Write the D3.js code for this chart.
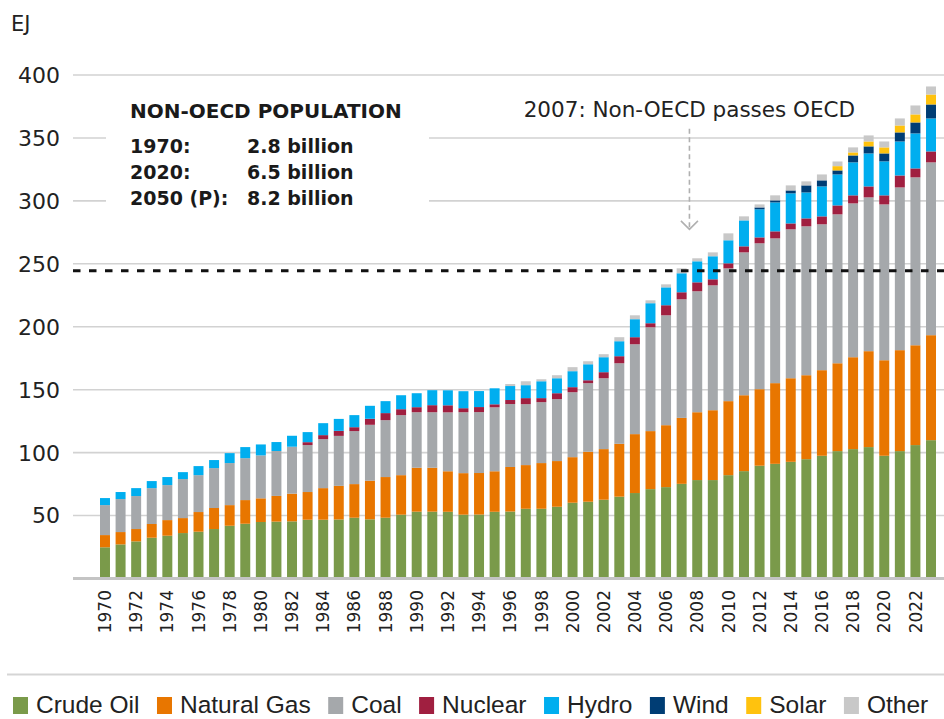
<!DOCTYPE html>
<html><head><meta charset="utf-8">
<script src="https://cdn.jsdelivr.net/npm/d3@7"></script>
<style>body{margin:0;background:#fff}svg{display:block}</style>
</head><body><svg id="c" width="944" height="719"></svg>
<script>
const years = [1970,1971,1972,1973,1974,1975,1976,1977,1978,1979,1980,1981,1982,1983,1984,1985,1986,1987,1988,1989,1990,1991,1992,1993,1994,1995,1996,1997,1998,1999,2000,2001,2002,2003,2004,2005,2006,2007,2008,2009,2010,2011,2012,2013,2014,2015,2016,2017,2018,2019,2020,2021,2022,2023];
const crudeOil = [24.4,26.7,29.1,32.0,33.6,35.7,36.8,38.9,41.5,43.1, 44.5,44.8,45.0,46.3,46.3,46.5,47.9,46.6,47.9,50.3, 52.7,52.7,52.6,50.3,50.4,52.6,52.8,55.0,55.0,56.6, 59.8,60.6,62.2,64.6,67.5,70.6,72.2,74.8,77.8,77.8, 81.7,84.9,89.2,90.7,92.3,94.4,97.1,100.8,102.4,104.0, 97.1,100.8,105.6,109.5];
const naturalGas = [9.7,9.8,9.8,10.9,12.4,11.9,15.6,16.7,16.4,18.8, 18.8,20.4,22.0,22.0,25.1,26.7,26.7,30.7,32.3,31.4, 34.9,34.9,32.2,33.0,33.0,32.2,35.4,34.7,36.3,36.3, 36.2,39.7,40.2,42.0,46.8,46.1,49.2,52.4,53.9,55.5, 58.8,60.3,60.8,64.1,66.4,66.7,68.0,69.8,73.0,76.2, 75.9,80.2,79.3,83.4];
const coal = [23.8,26.2,26.2,28.5,27.8,31.0,29.3,31.7,33.4,33.3, 34.1,35.7,37.3,37.3,38.9,39.7,42.1,44.4,45.2,47.7, 44.1,44.1,46.8,48.4,48.4,50.8,50.0,48.4,48.4,49.2, 51.6,54.5,56.3,64.0,71.4,82.5,87.3,94.2,96.1,99.2, 105.5,113.5,115.9,115.0,118.3,118.3,115.9,118.3,122.2,122.2, 123.8,129.3,133.4,137.3];
const nuclear = [0,0,0,0,0,0,0,0,0,0, 0,0,0,2.3,3.2,4.0,3.1,4.8,5.6,4.7, 4.0,5.6,5.6,3.2,4.0,2.4,3.2,4.8,3.2,4.7, 4.0,2.3,4.8,5.6,5.6,3.2,8.0,5.6,7.1,4.8, 4.0,4.8,4.7,5.6,4.7,6.3,6.3,7.1,6.4,8.7, 7.2,9.5,7.1,8.7];
const hydro = [5.6,5.6,6.3,5.6,6.4,5.5,7.2,6.4,7.9,8.8, 8.7,7.1,8.7,8.0,9.5,9.5,9.6,10.3,9.5,11.1, 11.1,11.9,11.9,13.5,12.7,12.7,11.1,10.3,13.4,11.9, 12.7,12.7,11.9,11.9,14.3,15.9,14.2,15.1,16.7,18.3, 18.3,20.6,22.3,23.0,23.9,20.6,23.8,24.6,26.2,26.2, 27.0,27.0,27.8,26.2];
const wind = [0,0,0,0,0,0,0,0,0,0, 0,0,0,0,0,0,0,0,0,0, 0,0,0,0,0,0,0,0,0,0, 0,0,0,0,0,0,0,0,0,0, 0,0,1.5,1.6,2.3,5.6,4.8,3.2,5.5,5.6, 6.3,7.2,8.7,11.1];
const solar = [0,0,0,0,0,0,0,0,0,0, 0,0,0,0,0,0,0,0,0,0, 0,0,0,0,0,0,0,0,0,0, 0,0,0,0,0,0,0,0,0,0, 0,0,0,0,0,0,0,3.4,2.4,3.9, 4.8,5.5,6.4,7.9];
const other = [0,0,0,0,0,0,0,0,0,0, 0,0,0,0,0,0,0,0,0,0, 0,0,0,0,0,0,1.6,3.1,1.6,2.4, 3.2,2.4,2.4,3.2,3.1,2.3,2.4,3.9,2.4,3.1, 5.5,3.2,2.4,4.0,4.0,3.2,4.7,3.7,4.0,4.8, 4.7,5.6,7.1,6.4];

const seriesNames = ["Crude Oil","Natural Gas","Coal","Nuclear","Hydro","Wind","Solar","Other"];
const seriesValues = [crudeOil, naturalGas, coal, nuclear, hydro, wind, solar, other];
const seriesColors = ["#7a9a4a","#e87600","#a5a8ab","#a01f40","#00aeef","#003d74","#ffc20e","#c8c8c8"];

const yTicks = [50,100,150,200,250,300,350,400];
const xTickYears = [1970,1972,1974,1976,1978,1980,1982,1984,1986,1988,1990,1992,1994,1996,1998,2000,2002,2004,2006,2008,2010,2012,2014,2016,2018,2020,2022];
const oecdLevel = 244;
const unitLabel = "EJ";
const crossYear = 2007;
const crossText = "2007: Non-OECD passes OECD";
const popTitle = "NON-OECD POPULATION";
const popLabels = ["1970:","2020:","2050 (P):"];
const popValues = ["2.8 billion","6.5 billion","8.2 billion"];

const rows = years.map((yr,i)=>{const r={year:yr}; seriesNames.forEach((n,k)=>r[n]=seriesValues[k][i]); return r;});

const svg = d3.select("#c");
const FONT = "'DejaVu Sans', sans-serif";
const x = d3.scaleBand().domain(years).range([97.2, 938.8]).paddingInner(0.36).paddingOuter(0.18);
const y = d3.scaleLinear().domain([0,400]).range([578, 74.5]);
const gx0 = 73, gx1 = 944;

// y axis with gridlines
const ya = svg.append("g").attr("transform",`translate(${gx0},0)`)
  .call(d3.axisLeft(y).tickValues(yTicks).tickSize(-(gx1-gx0)).tickPadding(13));
ya.select(".domain").remove();
ya.selectAll(".tick line").attr("stroke","#d2d2d2").attr("stroke-width",1.6);
ya.selectAll(".tick text").attr("font-family",FONT).attr("font-size",22).attr("fill","#222").attr("dy","0.36em");

// white box behind population annotation
svg.append("rect").attr("x",106).attr("y",86).attr("width",323).attr("height",128).attr("fill","#fff");

// unit label
svg.append("text").attr("x",11).attr("y",31).attr("font-family",FONT).attr("font-size",21).attr("fill","#222").text(unitLabel);

// population annotation
svg.append("text").attr("x",130).attr("y",118).attr("font-family",FONT).attr("font-weight","bold").attr("font-size",20).attr("fill","#1a1a1a").text(popTitle);
svg.append("g").selectAll("text").data(popLabels).join("text")
  .attr("x",130).attr("y",(d,i)=>153+i*26).attr("font-family",FONT).attr("font-weight","bold").attr("font-size",19).attr("fill","#1a1a1a").text(d=>d);
svg.append("g").selectAll("text").data(popValues).join("text")
  .attr("x",247).attr("y",(d,i)=>153+i*26).attr("font-family",FONT).attr("font-weight","bold").attr("font-size",19).attr("fill","#1a1a1a").text(d=>d);

// bars
const stacked = d3.stack().keys(seriesNames)(rows);
svg.append("g").selectAll("g").data(stacked).join("g").attr("fill",(d,i)=>seriesColors[i])
  .selectAll("rect").data(d=>d.filter(p=>p[1]-p[0]>0)).join("rect")
  .attr("x",d=>x(d.data.year)).attr("width",x.bandwidth())
  .attr("y",d=>y(d[1])).attr("height",d=>y(d[0])-y(d[1]));

// baseline
svg.append("line").attr("x1",gx0).attr("x2",gx1).attr("y1",y(0)+0.5).attr("y2",y(0)+0.5).attr("stroke","#c4c4c4").attr("stroke-width",3);

// x axis
const xa = svg.append("g").attr("transform",`translate(0,${y(0)})`)
  .call(d3.axisBottom(x).tickValues(xTickYears).tickSize(0));
xa.select(".domain").remove();
xa.selectAll(".tick text").attr("transform","rotate(-90)").attr("x",-12).attr("y",0).attr("dy","0.36em")
  .style("text-anchor","end").attr("font-family",FONT).attr("font-size",17).attr("fill","#222");

// OECD dashed level
svg.append("line").attr("x1",gx0).attr("x2",gx1).attr("y1",y(oecdLevel)).attr("y2",y(oecdLevel))
  .attr("stroke","#111").attr("stroke-width",3).attr("stroke-dasharray","7.5,8.5");

// crossing annotation
const ax = x(crossYear) + x.bandwidth() + x.step()*x.paddingInner()/2;
const aTop = y(357), aBot = y(277);
svg.append("line").attr("x1",ax).attr("x2",ax).attr("y1",aTop).attr("y2",aBot-1)
  .attr("stroke","#b0b0b0").attr("stroke-width",1.6).attr("stroke-dasharray","5,3.5");
svg.append("path").attr("d",`M${ax-8.5},${aBot-8.5}L${ax},${aBot}L${ax+8.5},${aBot-8.5}`)
  .attr("fill","none").attr("stroke","#b0b0b0").attr("stroke-width",1.6);
svg.append("text").attr("x",ax).attr("y",117).attr("text-anchor","middle").attr("font-family",FONT)
  .attr("font-size",21.5).attr("fill","#222").text(crossText);

// legend
svg.append("line").attr("x1",7).attr("x2",944).attr("y1",674.5).attr("y2",674.5).attr("stroke","#d5d5d5").attr("stroke-width",2);
const lg = svg.append("g");
let lx = 13;
seriesNames.forEach((n,i)=>{
  lg.append("rect").attr("x",lx).attr("y",697).attr("width",15).attr("height",17).attr("fill",seriesColors[i]);
  const t = lg.append("text").attr("x",lx+23).attr("y",713).attr("font-family","'Liberation Sans', Arial, sans-serif")
    .attr("font-size",24.5).attr("fill","#222").text(n);
  lx = lx + 23 + t.node().getComputedTextLength() + 17.5;
});
</script>
</body></html>
